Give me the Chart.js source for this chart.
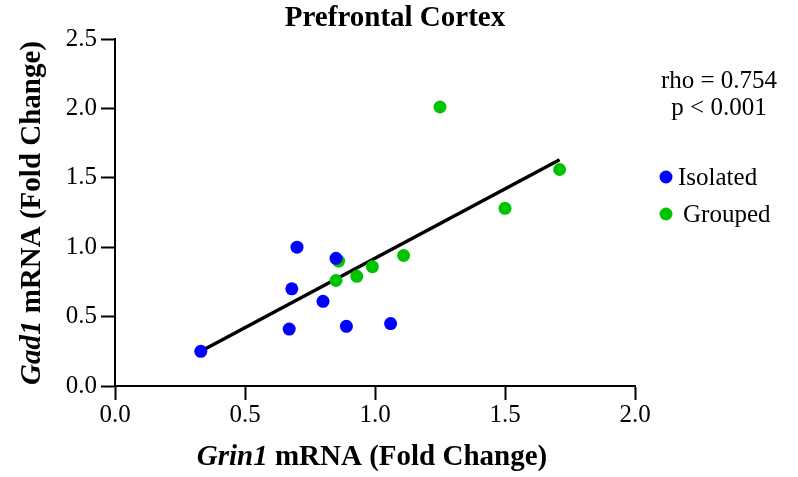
<!DOCTYPE html>
<html lang="en">
<head>
  <meta charset="UTF-8" />
  <title>Prefrontal Cortex</title>
  <script src="https://cdn.jsdelivr.net/npm/chart.js"></script>
  <style>
    body {
      margin: 0;
      background: #fff;
    }

    #wrap {
      width: 798px;
      height: 477px;
      position: relative;
    }
  </style>
</head>
<body>

<div id="wrap">
  <canvas id="scatterChart" width="798" height="477"></canvas>
</div>

<script>
  // Grin1 (x) vs Gad1 (y), fold change
  const isolatedX = [0.33, 0.67, 0.68, 0.70, 0.80, 0.85, 0.89, 1.06];
  const isolatedY = [0.25, 0.41, 0.70, 1.00, 0.61, 0.92, 0.43, 0.45];

  const groupedX = [0.85, 0.86, 0.93, 0.99, 1.11, 1.25, 1.50, 1.71];
  const groupedY = [0.76, 0.90, 0.79, 0.86, 0.94, 2.01, 1.28, 1.56];

  const fitX = [0.33, 1.71];
  const fitY = [0.25, 1.63];

  const xTicks = [0.0, 0.5, 1.0, 1.5, 2.0];
  const yTicks = [0.0, 0.5, 1.0, 1.5, 2.0, 2.5];

  const seriesNames = ["Isolated", "Grouped"];
  const seriesColors = ["#0000ff", "#00c400"];
  const statsLines = ["rho = 0.754", "p < 0.001"];

  const SERIF = "'Liberation Serif', 'Times New Roman', serif";

  function toPoints(xs, ys) {
    return xs.map((x, i) => ({ x: x, y: ys[i] }));
  }

  // titles, stats and legend need mixed italic/bold text, so draw them here
  const extrasPlugin = {
    id: "extras",
    afterDraw(chart) {
      const ctx = chart.ctx;
      const area = chart.chartArea;
      ctx.save();
      ctx.fillStyle = "#000";
      ctx.textBaseline = "middle";

      // main title
      ctx.font = "bold 29px " + SERIF;
      ctx.textAlign = "center";
      ctx.fillText("Prefrontal Cortex", 395, 19);

      // x axis title
      drawMixed(ctx, "Grin1", " mRNA (Fold Change)", 372, 458);

      // y axis title
      ctx.save();
      ctx.translate(33, 213);
      ctx.rotate(-Math.PI / 2);
      drawMixed(ctx, "Gad1", " mRNA (Fold Change)", 0, 0);
      ctx.restore();

      // stats
      ctx.font = "25px " + SERIF;
      ctx.textAlign = "center";
      ctx.fillText(statsLines[0], 719, 81);
      ctx.fillText(statsLines[1], 719, 108);

      // legend
      const legendY = [177, 214];
      const textX = [678, 683];
      seriesNames.forEach((name, i) => {
        ctx.beginPath();
        ctx.arc(666, legendY[i], 6.5, 0, Math.PI * 2);
        ctx.fillStyle = seriesColors[i];
        ctx.fill();
        ctx.fillStyle = "#000";
        ctx.textAlign = "left";
        ctx.fillText(name, textX[i], legendY[i] + 1);
      });

      ctx.restore();
    }
  };

  function drawMixed(ctx, italicPart, boldPart, cx, cy) {
    const italicFont = "italic bold 29px " + SERIF;
    const boldFont = "bold 29px " + SERIF;
    ctx.font = italicFont;
    const w1 = ctx.measureText(italicPart).width;
    ctx.font = boldFont;
    const w2 = ctx.measureText(boldPart).width;
    const x = cx - (w1 + w2) / 2;
    ctx.textAlign = "left";
    ctx.font = italicFont;
    ctx.fillText(italicPart, x, cy);
    ctx.font = boldFont;
    ctx.fillText(boldPart, x + w1, cy);
  }

  const tickFont = { family: SERIF, size: 25 };

  new Chart(document.getElementById("scatterChart").getContext("2d"), {
    type: "scatter",
    data: {
      datasets: [
        {
          label: seriesNames[0],
          data: toPoints(isolatedX, isolatedY),
          backgroundColor: seriesColors[0],
          borderWidth: 0,
          pointRadius: 6.5,
          order: 0
        },
        {
          label: seriesNames[1],
          data: toPoints(groupedX, groupedY),
          backgroundColor: seriesColors[1],
          borderWidth: 0,
          pointRadius: 6.5,
          order: 1
        },
        {
          type: "line",
          label: "fit",
          data: toPoints(fitX, fitY),
          borderColor: "#000",
          borderWidth: 3.5,
          pointRadius: 0,
          fill: false,
          order: 2
        }
      ]
    },
    options: {
      responsive: false,
      animation: false,
      layout: {
        padding: { left: 0, right: 163, top: 39, bottom: 0 }
      },
      plugins: {
        legend: { display: false },
        tooltip: { enabled: false },
        title: { display: false }
      },
      scales: {
        x: {
          type: "linear",
          min: 0,
          max: 2,
          afterBuildTicks: axis => { axis.ticks = xTicks.map(v => ({ value: v })); },
          afterFit: axis => { axis.height = 91; },
          ticks: {
            color: "#000",
            font: tickFont,
            padding: 0,
            callback: v => v.toFixed(1)
          },
          grid: {
            drawOnChartArea: false,
            drawTicks: true,
            tickLength: 14,
            tickWidth: 2,
            color: "#000"
          },
          border: { color: "#000", width: 2 }
        },
        y: {
          type: "linear",
          min: 0,
          max: 2.5,
          afterBuildTicks: axis => { axis.ticks = yTicks.map(v => ({ value: v })); },
          afterFit: axis => { axis.width = 115; },
          ticks: {
            color: "#000",
            font: tickFont,
            padding: 4,
            callback: v => v.toFixed(1)
          },
          grid: {
            drawOnChartArea: false,
            drawTicks: true,
            tickLength: 14,
            tickWidth: 2,
            color: "#000"
          },
          border: { color: "#000", width: 2 }
        }
      }
    },
    plugins: [extrasPlugin]
  });
</script>

</body>
</html>
